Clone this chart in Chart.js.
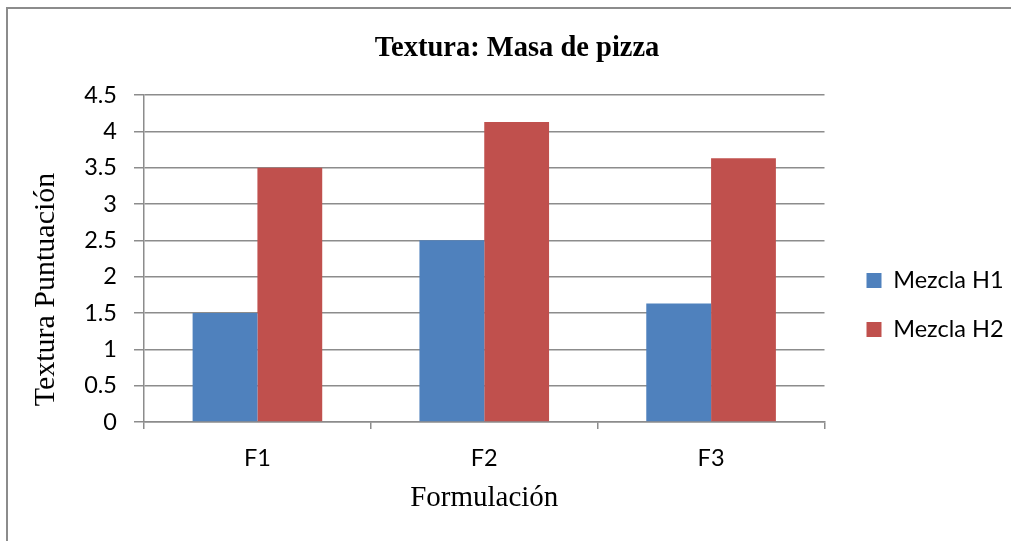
<!DOCTYPE html>
<html>
<head>
<meta charset="utf-8">
<script src="https://cdn.jsdelivr.net/npm/chart.js@4.4.1/dist/chart.umd.min.js"></script>
<style>
  html, body { margin: 0; padding: 0; background: #fff; overflow: hidden; }
  #frame {
    position: absolute; left: 6px; top: 7px; width: 1100px; height: 600px;
    border-left: 2px solid #8c8c8c; border-top: 2px solid #8c8c8c;
  }
  #chart { position: absolute; left: 0; top: 0; }
</style>
</head>
<body>
<div id="frame"></div>
<canvas id="chart" width="1011" height="541"></canvas>
<script>
// ---------- DATA ----------
const categories = ["F1", "F2", "F3"];
const mezclaH1 = [1.5, 2.5, 1.63];
const mezclaH2 = [3.5, 4.13, 3.63];
const seriesNames = ["Mezcla H1", "Mezcla H2"];

const serif = "'Liberation Serif', 'Times New Roman', serif";
const sans = "Lato, 'Open Sans', sans-serif";
const gridColor = "#8c8c8c";

// y axis title, drawn a bit below the middle like the original
const yTitlePlugin = {
  id: "yTitle",
  afterDraw(chart) {
    const ctx = chart.ctx;
    const area = chart.chartArea;
    ctx.save();
    ctx.translate(46, (area.top + area.bottom) / 2 + 31);
    ctx.rotate(-Math.PI / 2);
    ctx.font = "30px " + serif;
    ctx.fillStyle = "#000";
    ctx.textAlign = "center";
    ctx.textBaseline = "middle";
    ctx.fillText("Textura Puntuación", 0, 0);
    ctx.restore();
  },
};

const ctx = document.getElementById("chart").getContext("2d");

new Chart(ctx, {
  type: "bar",
  data: {
    labels: categories,
    datasets: [
      {
        label: seriesNames[0],
        data: mezclaH1,
        backgroundColor: "#4F81BD",
        borderWidth: 0,
      },
      {
        label: seriesNames[1],
        data: mezclaH2,
        backgroundColor: "#C0504D",
        borderWidth: 0,
      },
    ],
  },
  options: {
    responsive: false,
    devicePixelRatio: 1,
    animation: false,
    categoryPercentage: 2 / 3.5,
    barPercentage: 1,
    layout: { padding: { left: 31, right: 8, top: 0, bottom: 0 } },
    plugins: {
      title: {
        display: true,
        text: "Textura: Masa de pizza",
        color: "#000",
        font: { family: serif, size: 28.5, weight: "bold" },
        padding: { top: 32, bottom: 28.8 },
      },
      legend: {
        position: "right",
        title: { display: true, text: "", font: { size: 10 }, padding: { top: 57, bottom: 0 } },
        labels: {
          boxWidth: 15,
          boxHeight: 15,
          padding: 25.5,
          color: "#000",
          font: { family: sans, size: 23.5 },
        },
      },
      tooltip: { enabled: false },
    },
    scales: {
      x: {
        grid: {
          display: true,
          drawOnChartArea: false,
          drawTicks: true,
          tickLength: 7,
          color: gridColor,
          lineWidth: 1.5,
        },
        border: { color: gridColor, width: 1.5 },
        ticks: { color: "#000", padding: 15, font: { family: sans, size: 23.5 } },
        title: {
          display: true,
          text: "Formulación",
          color: "#000",
          font: { family: serif, size: 29 },
          padding: { top: 0, bottom: 25 },
        },
        afterFit: (s) => { s.height = 119; },
      },
      y: {
        min: 0,
        max: 4.5,
        grid: { color: gridColor, lineWidth: 1.5, tickLength: 10 },
        border: { color: gridColor, width: 1.5 },
        ticks: {
          stepSize: 0.5,
          color: "#000",
          padding: 17,
          font: { family: sans, size: 23.5 },
          callback: (value) => String(value),
        },
        afterFit: (s) => { s.width = 113; },
      },
      // spacer between plot and legend
      gap: {
        type: "linear",
        position: "right",
        grid: { display: false },
        ticks: { display: false },
        border: { display: false },
        afterFit: (s) => { s.width = 16.5; },
      },
    },
  },
  plugins: [yTitlePlugin],
});
</script>
</body>
</html>
